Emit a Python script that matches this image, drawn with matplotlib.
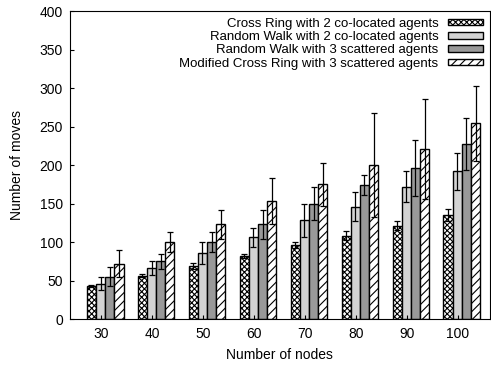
# bar chart: number of moves vs number of nodes, 4 strategies with error bars
import numpy as np
import matplotlib
matplotlib.use("Agg")
import matplotlib.pyplot as plt

plt.rcParams["font.family"] = ["Liberation Sans", "DejaVu Sans"]
plt.rcParams["hatch.linewidth"] = 0.8

# data
nodes = ["30", "40", "50", "60", "70", "80", "90", "100"]
labels = [
    "Cross Ring with 2 co-located agents",
    "Random Walk with 2 co-located agents",
    "Random Walk with 3 scattered agents",
    "Modified Cross Ring with 3 scattered agents",
]
cross_ring = [43, 56, 69, 82, 96, 108, 121, 135]
cross_ring_err = [1, 2, 4, 3, 4, 6, 6, 8]
rw_colocated = [46, 66, 86, 106, 128, 146, 172, 192]
rw_colocated_err = [8, 9, 14, 12, 21, 19, 20, 24]
rw_scattered = [55, 75, 100, 123, 150, 174, 196, 227]
rw_scattered_err = [12, 10, 13, 19, 22, 13, 36, 34]
mcr_scattered = [72, 100, 123, 153, 175, 200, 221, 254]
mcr_scattered_err = [18, 13, 19, 30, 28, 67, 65, 49]

series = [cross_ring, rw_colocated, rw_scattered, mcr_scattered]
errors = [cross_ring_err, rw_colocated_err, rw_scattered_err, mcr_scattered_err]
faces = ["white", "#d3d3d3", "#999999", "white"]
hatches = ["xxxxxx", None, None, "////"]

fig = plt.figure(figsize=(4.91, 3.69), dpi=100)
ax = fig.add_axes([0.1426, 0.1355, 0.855, 0.8345])

x = np.arange(len(nodes))
w = 0.18
shift = 0.08
for k in range(4):
    ax.bar(x + (k - 1.5) * w + shift, series[k], width=w, color=faces[k],
           edgecolor="black", linewidth=1.0, hatch=hatches[k], label=labels[k],
           yerr=errors[k], capsize=2.5,
           error_kw=dict(ecolor="black", elinewidth=0.9, capthick=0.9))

ax.set_xlim(-0.61, 7.63)
ax.set_ylim(0, 400)
ax.set_xticks(x)
ax.set_xticklabels(nodes)
ax.set_yticks(np.arange(0, 401, 50))
ax.tick_params(direction="in", labelsize=10, length=3, top=False, right=False)
ax.tick_params(axis="x", pad=6)
ax.tick_params(axis="y", pad=5)
ax.set_xlabel("Number of nodes", fontsize=10, labelpad=5)
ax.set_ylabel("Number of moves", fontsize=10, labelpad=11)

ax.legend(loc="upper right", frameon=False, markerfirst=False, fontsize=9.5,
          handlelength=2.7, handleheight=0.4, labelspacing=0.1,
          borderaxespad=0.2, borderpad=0.3, handletextpad=0.7)

plt.savefig("out.png", dpi=100)
plt.close()
